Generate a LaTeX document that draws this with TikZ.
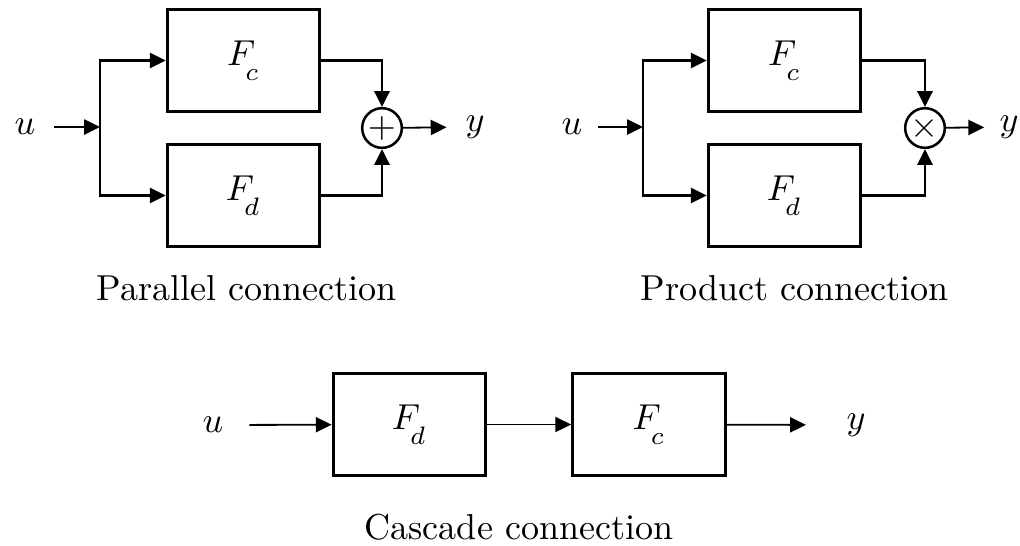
\documentclass[tikz,border=0pt]{standalone}
\usepackage{graphicx}
\usetikzlibrary{arrows.meta}
\newcommand{\Fsub}[1]{F_{\!\lower2.5pt\hbox{$\scriptstyle #1$}}}
\tikzset{
  blk/.style={draw,line width=0.8pt,minimum width=1.49cm,minimum height=1.0cm},
  sig/.style={inner sep=5pt},
  junc/.style={draw,circle,line width=0.7pt,inner sep=0pt,minimum size=11pt},
  >={Triangle[length=4.4pt,width=4.2pt]}
}
\begin{document}
\begin{tikzpicture}[x=0.975cm,y=0.975cm,line width=0.5pt]
\useasboundingbox (0,0) rectangle (10.20,-5.45);
% parallel
\node[sig] (u1) at (0.25,-1.27) {$u$};
\coordinate (s1) at (1.00,-1.27);
\node[blk] (Fc1) at (2.435,-0.605) {$\Fsub{c}$};
\node[blk] (Fd1) at (2.435,-1.955) {$\Fsub{d}$};
\node[junc] (sum1) at (3.82,-1.28) {$+$};
\node[sig] (y1) at (4.75,-1.27) {$y$};
\draw[->] (u1) -- (s1);
\draw[->,line width=0.7pt] (s1) |- (Fc1);
\draw[->,line width=0.7pt] (s1) |- (Fd1);
\draw[->,line width=0.8pt] (Fc1) -| (sum1);
\draw[->,line width=0.8pt] (Fd1) -| (sum1);
\draw[->] (sum1) -- (y1);
\node (cap1) at (2.47,-2.88) {Parallel connection};
% product
\node[sig,inner sep=4pt] (u2) at (5.72,-1.27) {$u$};
\coordinate (s2) at (6.43,-1.27);
\node[blk] (Fc2) at (7.845,-0.605) {$\Fsub{c}$};
\node[blk] (Fd2) at (7.845,-1.955) {$\Fsub{d}$};
\node[junc] (prod2) at (9.25,-1.28) {$\times$};
\node[sig,inner sep=4pt] (y2) at (10.09,-1.27) {$y$};
\draw[->] (u2) -- (s2);
\draw[->,line width=0.7pt] (s2) |- (Fc2);
\draw[->,line width=0.7pt] (s2) |- (Fd2);
\draw[->,line width=0.8pt] (Fc2) -| (prod2);
\draw[->,line width=0.8pt] (Fd2) -| (prod2);
\draw[->] (prod2) -- (y2);
\node (cap2) at (7.95,-2.88) {Product connection};
% cascade
\node[sig,inner sep=7pt] (u3) at (2.13,-4.25) {$u$};
\node[blk] (Fd3) at (4.095,-4.245) {$\Fsub{d}$};
\node[blk] (Fc3) at (6.49,-4.245) {$\Fsub{c}$};
\node[sig,inner sep=11pt] (y3) at (8.56,-4.25) {$y$};
\draw[->] (u3) -- (Fd3);
\draw[->] (Fd3) -- (Fc3);
\draw[->] (Fc3) -- (y3);
\node (cap3) at (5.19,-5.27) {Cascade connection};
\end{tikzpicture}
\end{document}
